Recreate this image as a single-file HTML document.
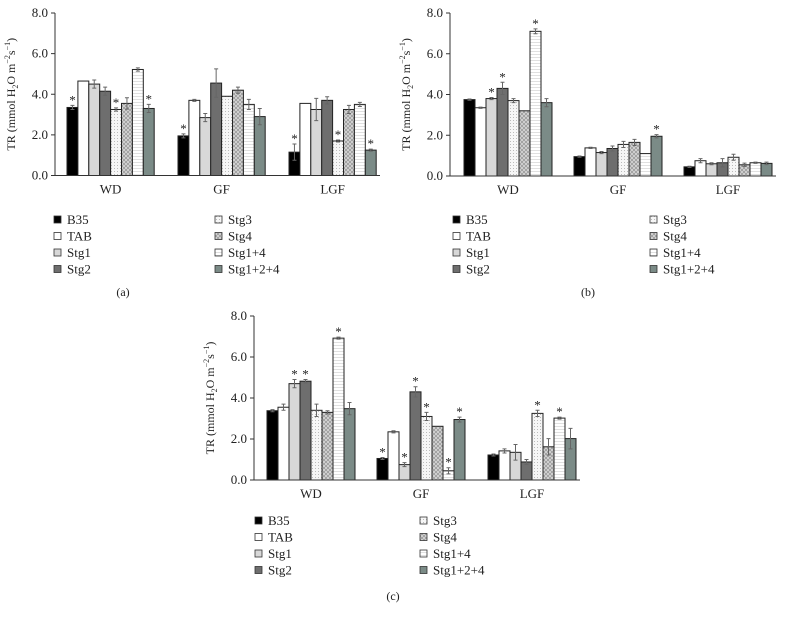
<!DOCTYPE html>
<html><head><meta charset="utf-8">
<style>
body{margin:0;background:#fff;}
svg{display:block;font-family:"Liberation Serif",serif;}
</style></head>
<body>
<svg id="s" width="792" height="622" viewBox="0 0 792 622" xmlns="http://www.w3.org/2000/svg">
<defs>
<pattern id="pDot" width="3" height="3" patternUnits="userSpaceOnUse"><rect width="3" height="3" fill="#f6f6f6"/><rect width="1" height="1" fill="#bbb"/></pattern>
<pattern id="pCross" width="4" height="4" patternUnits="userSpaceOnUse"><rect width="4" height="4" fill="#d4d4d4"/><path d="M0 0L4 4M4 0L0 4" stroke="#888" stroke-width="0.6"/></pattern>
<pattern id="pHor" width="3" height="3" patternUnits="userSpaceOnUse"><rect width="3" height="3" fill="#fff"/><rect y="0" width="3" height="0.6" fill="#ccc"/></pattern>
</defs>
</svg>
<script>
const groups=["WD","GF","LGF"];
const series=["B35","TAB","Stg1","Stg2","Stg3","Stg4","Stg1+4","Stg1+2+4"];
const ticks=[0,2,4,6,8];
const aVals=[[3.35,4.65,4.5,4.15,3.25,3.55,5.22,3.3],[1.95,3.7,2.85,4.55,3.9,4.2,3.5,2.9],[1.15,3.55,3.25,3.7,1.7,3.25,3.5,1.25]];
const aErr=[[.1,0,.2,.2,.08,.28,.08,.2],[.1,.05,.2,.7,0,.15,.25,.4],[.4,0,.55,.18,.05,.2,.1,.05]];
const aStar=[[0,4,7],[0],[0,4,7]];
const bVals=[[3.75,3.35,3.8,4.3,3.7,3.2,7.1,3.6],[.95,1.38,1.15,1.35,1.55,1.65,1.1,1.95],[.45,.75,.6,.65,.92,.55,.65,.62]];
const bErr=[[.03,.03,.05,.3,.1,0,.12,.2],[.03,.03,.05,.12,.15,.15,0,.08],[.03,.1,.05,.2,.15,.08,.03,.06]];
const bStar=[[2,3,6],[7],[]];
const cVals=[[3.38,3.55,4.7,4.82,3.4,3.3,6.92,3.48],[1.05,2.35,.75,4.3,3.1,2.62,.45,2.95],[1.22,1.42,1.35,.88,3.25,1.62,3.02,2.02]];
const cErr=[[.05,.15,.2,.08,.3,.08,.05,.3],[.05,.05,.1,.25,.2,0,.15,.12],[.05,.1,.38,.12,.15,.4,.05,.5]];
const cStar=[[2,3,6],[0,2,3,4,6,7],[4,6]];
const fills=["#000","#fff","#d8d8d8","#6e6e6e","url(#pDot)","url(#pCross)","url(#pHor)","#7b8b87"];
const NS="http://www.w3.org/2000/svg";
const svg=document.getElementById('s');
function el(tag,at,parent,txt){const e=document.createElementNS(NS,tag);for(const k in at)e.setAttribute(k,at[k]);if(txt!==undefined)e.textContent=txt;(parent||svg).appendChild(e);return e;}
function panel(P){
  const g=el('g',{});
  
  
  const y=v=>P.y0-(v/8)*(P.y0-P.y8);
  const bw=P.bw;
  ticks.forEach(t=>{
    el('line',{x1:P.ax-4,x2:P.ax,y1:y(t),y2:y(t),stroke:'#333','stroke-width':1},g);
    const tl=el('text',{x:P.ax-7,y:y(t)+4,'font-size':13,'text-anchor':'end',fill:'#222'},g,t.toFixed(1));
    
    
  });
  const yt=el('text',{transform:`translate(${P.ax-40},${(P.y0+P.y8)/2}) rotate(-90)`,'font-size':12,'text-anchor':'middle',fill:'#222'},g);
  
  
  yt.innerHTML='TR (mmol H<tspan font-size="8" dy="3">2</tspan><tspan dy="-3">O m</tspan><tspan font-size="8" dy="-5">−2</tspan><tspan font-size="12" dy="5">s</tspan><tspan font-size="8" dy="-5">−1</tspan><tspan dy="5">)</tspan>';
  groups.forEach((gn,gi)=>{
    const gx=P.gx[gi];
    P.vals[gi].forEach((v,i)=>{
      const x=gx+i*bw;
      const r=el('rect',{x:x,y:y(v),width:bw,height:P.y0-y(v),fill:fills[i],stroke:'#222','stroke-width':1},g);
      
      
      const e=P.err[gi][i];
      if(e>0){
        const cx=x+bw/2;
        el('path',{d:`M${cx} ${y(v+e)}V${y(v-e)}M${cx-2} ${y(v+e)}H${cx+2}M${cx-2} ${y(v-e)}H${cx+2}`,stroke:'#666','stroke-width':1,fill:'none'},g);
      }
      if(P.star[gi].includes(i)){
        const st=el('text',{x:x+bw/2,y:y(v+e)-1,'font-size':13,'text-anchor':'middle',fill:'#222'},g,'*');
        
        
      }
    });
    const xl=el('text',{x:gx+bw*4,y:P.y0+18,'font-size':13,'text-anchor':'middle',fill:'#222'},g,gn);
    
    
  });
  el('line',{x1:P.ax,x2:P.ax,y1:P.y8,y2:P.y0,stroke:'#333','stroke-width':1},g);
  el('line',{x1:P.ax,x2:P.xe,y1:P.y0,y2:P.y0,stroke:'#333','stroke-width':1},g);
  series.forEach((s,i)=>{
    const col=i<4?0:1, row=i%4;
    const lx=P.lx[col], ly=P.ly+row*16.5;
    const sq=el('rect',{x:lx,y:ly-4,width:7,height:7,fill:fills[i],stroke:'#333','stroke-width':0.8},g);
    
    
    const lt=el('text',{x:lx+13,y:ly+4,'font-size':13,fill:'#222'},g,s);
    
    
  });
  const cap=el('text',{x:P.cx,y:P.cy,'font-size':12,'text-anchor':'middle',fill:'#222'},g,'('+P.id+')');
  
  
}
panel({id:'a',ax:55,xe:380,y0:175.5,y8:13,bw:10.9,gx:[67,178,289],vals:aVals,err:aErr,star:aStar,lx:[54,215],ly:220,cx:123,cy:296});
panel({id:'b',ax:450,xe:776,y0:176,y8:13,bw:11,gx:[464,574,684],vals:bVals,err:bErr,star:bStar,lx:[453,650],ly:220,cx:588,cy:296});
panel({id:'c',ax:254,xe:580,y0:480,y8:316,bw:11,gx:[267,377,488],vals:cVals,err:cErr,star:cStar,lx:[255,420],ly:521,cx:393,cy:600});
</script>
</body></html>
